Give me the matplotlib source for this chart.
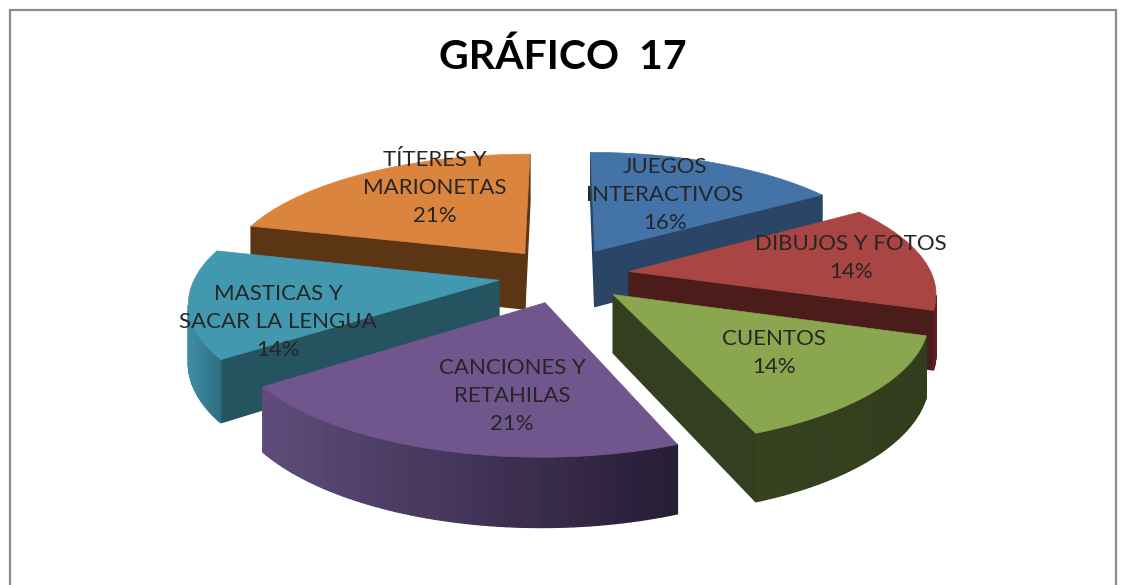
import numpy as np
import matplotlib
matplotlib.use("Agg")
import matplotlib.pyplot as plt
from matplotlib.patches import Polygon, Rectangle

# Data
labels = ["JUEGOS\nINTERACTIVOS", "DIBUJOS Y FOTOS", "CUENTOS",
          "CANCIONES Y\nRETAHILAS", "MASTICAS Y\nSACAR LA LENGUA", "TÍTERES Y\nMARIONETAS"]
shares = [16, 14, 14, 21, 14, 21]

# Styles
top_colors = ["#4473a8", "#a94543", "#8aa64f", "#70568c", "#4198af", "#db843d"]
cut_colors = ["#2a4565", "#4a1c1a", "#333f1f", "#3a2c4e", "#25535f", "#5c3515"]
wall_left = ["#2a4565", "#7a2f2d", "#36421f", "#5f4c7c", "#3f8ea6", "#5c3515"]
wall_right = ["#2a4565", "#5a2220", "#323d1e", "#271d35", "#2e6f83", "#5c3515"]
label_pos = [(665, 195), (851, 258), (774, 353), (512, 396), (278, 322), (435, 188)]

# Projection of the pie
cx, cy = 564, 275
rx, ry = 303, 121
persp = 0.155
depth = 57
explode_x = 0.217
explode_y = 0.23


def project(u, v, z=0.0):
    s = 1 / (1 + persp * v)
    return cx + rx * u * s, cy - ry * v * s + depth * z * s


def signed_area(pts):
    x, y = np.array(pts).T
    return 0.5 * np.sum(x * np.roll(y, -1) - np.roll(x, -1) * y)


def mix(c1, c2, t):
    a = np.array(matplotlib.colors.to_rgb(c1))
    b = np.array(matplotlib.colors.to_rgb(c2))
    return tuple(a + (b - a) * t)


def draw_slice(ax, a0, a1, i):
    mid = np.radians((a0 + a1) / 2)
    ox, oy = explode_x * np.sin(mid), explode_y * np.cos(mid)
    th = np.radians(np.linspace(a0, a1, 60))
    us = ox + np.sin(th)
    vs = oy + np.cos(th)

    # outline going tip -> rim -> tip, used to tell which walls face us
    top = [project(ox, oy)] + [project(u, v) for u, v in zip(us, vs)]
    orient = np.sign(signed_area(top))

    def wall(p, q, color):
        quad = [project(*p), project(*q), project(q[0], q[1], 1), project(p[0], p[1], 1)]
        if np.sign(signed_area(quad)) != orient:
            ax.add_patch(Polygon(quad, closed=True, fc=color, ec=color, lw=1.0))

    wall((ox, oy), (us[0], vs[0]), cut_colors[i])
    wall((us[-1], vs[-1]), (ox, oy), cut_colors[i])

    # rim wall, shaded left to right
    xs = [project(u, v)[0] for u, v in zip(us, vs)]
    for j in range(len(us) - 1):
        t = np.clip((xs[j] - min(xs)) / (max(xs) - min(xs)), 0, 1)
        wall((us[j], vs[j]), (us[j + 1], vs[j + 1]), mix(wall_left[i], wall_right[i], t))

    ax.add_patch(Polygon(top, closed=True, fc=top_colors[i], ec=top_colors[i], lw=0.5))


def main():
    fig = plt.figure(figsize=(11.23, 5.85), dpi=100)
    ax = fig.add_axes([0, 0, 1, 1])
    ax.set_xlim(0, 1123)
    ax.set_ylim(585, 0)
    ax.axis("off")

    ax.add_patch(Rectangle((10, 10), 1106, 600, fc="white", ec="#8c8c8c", lw=1.6))

    edges = np.cumsum([0] + shares) / sum(shares) * 360
    mids = (edges[:-1] + edges[1:]) / 2
    # back slices first
    for i in np.argsort(-np.cos(np.radians(mids))):
        draw_slice(ax, edges[i], edges[i + 1], i)

    for i, (name, share) in enumerate(zip(labels, shares)):
        x, y = label_pos[i]
        ax.text(x, y, f"{name}\n{share}%", ha="center", va="center", fontsize=16,
                family="Lato", color="#262626", linespacing=1.5)

    ax.text(563, 57, "GRÁFICO  17", ha="center", va="center", fontsize=29.5,
            family="Lato", weight="bold", color="black")

    fig.savefig("out.png", dpi=100)


if __name__ == "__main__":
    main()
